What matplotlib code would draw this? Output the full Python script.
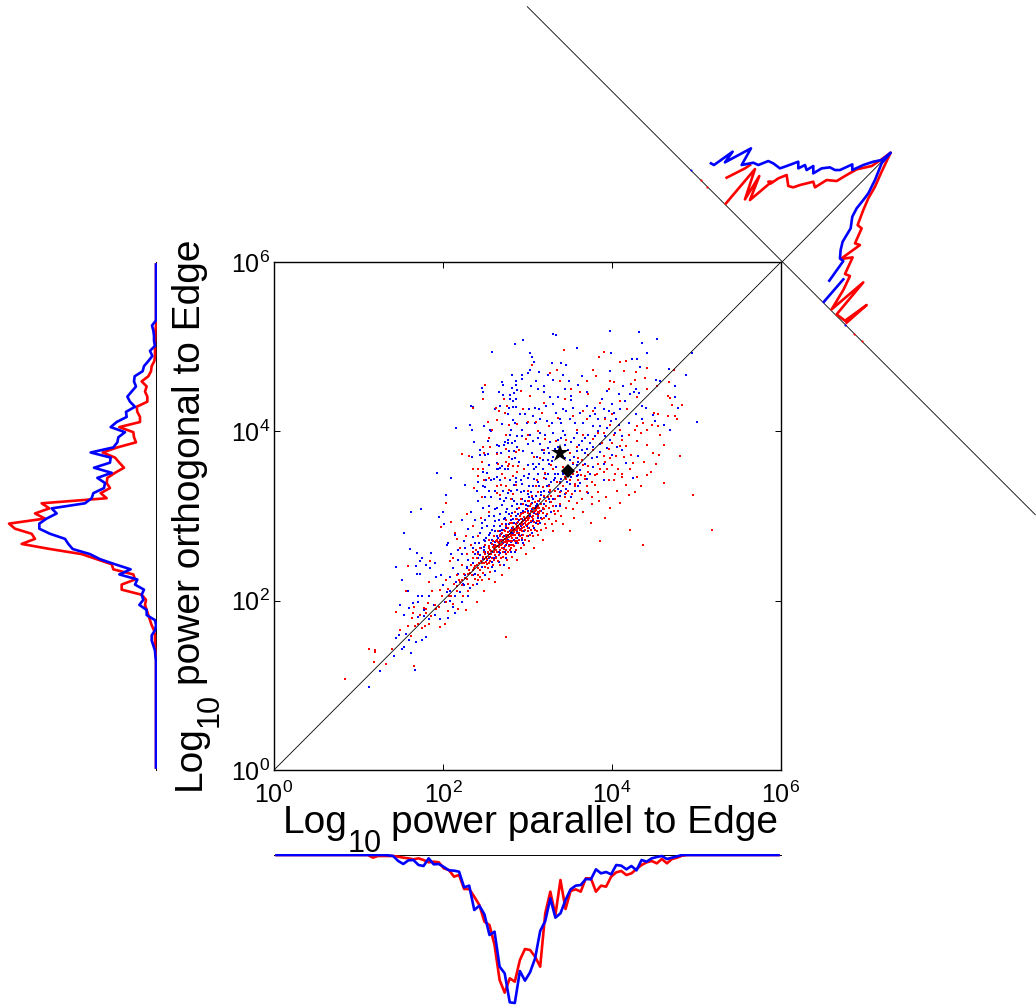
import numpy as np
import matplotlib
matplotlib.use("Agg")
import matplotlib.pyplot as plt
from matplotlib.transforms import Affine2D

plt.rcParams['font.family'] = ['Liberation Sans', 'DejaVu Sans']
plt.rcParams['mathtext.fontset'] = 'custom'
plt.rcParams['mathtext.rm'] = 'Liberation Sans'

W, H = 1036, 1008

# ---- scatter values, log10 power (parallel, orthogonal)
blue_wide = [(2.85,5.03),(2.58,4.94),(2.82,4.66),(2.70,4.58),(2.86,4.59),(2.71,4.55),(2.86,4.55),(2.82,4.51),(2.46,4.51),(2.47,4.47),
(2.66,4.47),(2.71,4.43),(2.79,4.43),(2.84,4.45),(2.87,4.49),(2.79,4.38),(2.86,4.38),(2.83,4.36),(2.33,4.30),(2.36,4.29),(2.68,4.30),
(2.83,4.29),(2.86,4.29),(2.78,4.28),(2.62,4.26),(2.77,4.21),(2.91,4.20),(2.83,4.13),(2.85,4.10),(2.70,4.09),(2.32,4.07),(2.15,4.04),
(2.34,4.02),(2.49,4.06),(2.56,4.02),(2.57,4.00),(2.80,4.02),(2.79,3.96),(2.87,3.94),(2.77,3.90),(2.85,3.89),(2.53,3.88),(2.37,3.87),
(2.73,3.87),(2.77,3.86),(2.82,3.86),(2.64,3.84),(2.66,3.83),(2.72,3.84),(2.88,3.82),(2.44,3.78),(2.78,3.77),(2.84,3.77),(2.64,3.75),
(2.69,3.75),(2.53,3.73),(2.50,3.72),(2.44,3.72),(2.34,3.70),(2.82,3.67),(2.85,3.68),(2.90,3.64),(2.64,3.63),(2.54,3.60),(2.65,3.55),
(2.70,3.59),(2.73,3.56),(2.68,3.57),(2.77,3.55),(1.93,3.51),(2.47,3.52),(2.64,3.55),(2.09,3.45),(2.52,3.51),(2.26,3.37),(2.41,3.40),
(2.51,3.43),(2.57,3.43),(2.60,3.44),(2.64,3.46),(2.67,3.42),(2.79,3.43),(2.86,3.45),(2.04,3.25),(2.47,3.35),(2.50,3.34),(2.62,3.30),
(2.71,3.29),(2.77,3.27),(2.84,3.37),(2.88,3.31),(2.40,3.29),(2.54,3.29),(2.57,3.22),(2.50,3.22),(2.67,3.20),(2.74,3.21),
(3.30,5.15),(3.34,5.14),(2.95,5.08),(3.98,5.18),(4.32,5.17),(4.53,5.09),(4.36,5.04),(3.59,4.98),(3.99,4.92),(4.42,4.93),(3.03,4.93),
(4.95,4.92),(3.05,4.88),(3.08,4.82),(3.29,4.81),(3.40,4.81),(3.46,4.78),(4.24,4.86),(4.30,4.85),(4.67,4.74),(4.88,4.67),(3.98,4.71),
(4.33,4.76),(3.03,4.72),(3.00,4.69),(2.94,4.66),(2.93,4.62),(3.30,4.61),(3.49,4.60),(3.65,4.65),(3.10,4.59),(3.04,4.53),(3.12,4.50),
(3.19,4.54),(3.44,4.50),(3.19,4.47),(3.52,4.42),(3.52,4.37),(3.36,4.41),(3.27,4.41),(4.52,4.61),(4.57,4.60),(4.74,4.53),(4.74,4.40),
(4.28,4.50),(4.26,4.47),(4.13,4.54),(4.21,4.44),(4.15,4.36),(4.35,4.30),(4.32,4.45),(5.01,4.11),(4.48,4.19),(4.51,4.12),(4.61,4.07),
(4.69,4.01),(4.78,4.28),(3.80,4.28),(3.90,4.26),(3.96,4.24),(4.02,4.22),(3.88,4.38),(3.80,4.20),(4.09,4.26),(4.05,4.14),(3.99,4.12),
(3.94,4.04),(3.86,4.06),(3.78,4.06),(3.66,4.10),(3.56,4.10),(3.50,4.14),(3.42,4.26),(3.34,4.22),(3.38,4.14),(3.29,4.10),(3.23,4.12),
(3.15,4.14),(3.09,4.10),(3.02,4.26),(3.09,4.28),(2.99,4.10),(2.94,4.02),(3.03,3.96),(3.15,3.98),(3.30,3.98),(3.42,4.00),(3.58,3.98),
(3.72,3.96),(3.86,3.85),(3.15,3.85),(3.27,3.87),(3.40,3.92),(3.52,3.87),(3.64,3.89),(3.05,3.75),(3.19,3.75),(2.95,3.77),(3.29,3.65),
(3.58,3.77),(3.70,3.79),(3.78,3.81),(4.31,3.71),(4.17,3.63),(4.25,3.45),(3.90,3.43),(3.72,3.27),(3.58,3.47),(3.62,3.39),
(3.00,3.60),(3.08,3.55),(3.14,3.62),(3.21,3.50),(3.12,3.40),(3.02,3.35),(3.26,3.37),(3.33,3.45),(3.40,3.30),(3.47,3.40),(3.52,3.55),
(2.96,3.47),(2.92,3.28),(3.05,3.22),(3.16,3.25),(3.22,3.18),(3.10,3.12),(2.98,3.13),(2.90,3.10),(2.82,3.12),(2.75,3.05),(2.70,3.13),
(2.62,3.08),(2.55,3.12),(2.47,3.10),(2.42,3.18),(2.33,3.05),(2.38,2.95),(2.46,2.92),(2.30,2.85),(2.22,2.95),(2.14,2.78),(2.25,2.70),
(2.35,2.75),(2.18,2.60),(2.05,2.66),(2.26,2.30),(2.30,2.48),(2.38,2.55),(2.42,2.38),(2.48,2.72),(2.55,2.78),(2.60,2.88),(2.66,2.95),
(2.58,2.40),(2.50,2.30),(2.40,2.20),(2.32,2.15),(2.22,1.98),(2.12,1.92),(2.62,2.35),(2.72,2.42),(2.85,2.58),(2.95,2.68),(3.05,2.80),
(3.15,2.92),(3.28,3.05),(3.38,3.12),(3.52,3.22)]
blue_left = [(1.62,3.05),(1.74,3.08),(2.00,3.05),(1.95,2.99),(2.01,2.91),(1.54,2.80),(2.06,2.68),(1.61,2.61),(1.69,2.56),(1.86,2.56),
(1.75,2.50),(1.73,2.47),(1.44,2.40),(1.68,2.41),(1.80,2.42),(1.90,2.45),(1.85,2.38),(1.69,2.31),(1.73,2.31),(1.92,2.28),(1.52,2.24),
(1.59,2.12),(1.70,2.06),(1.75,2.06),(1.83,2.05),(1.71,1.99),(1.64,1.97),(1.49,1.95),(1.60,1.91),(1.77,1.89),(1.89,1.95),(1.54,1.83),
(1.77,1.82),(1.71,1.81),(1.90,1.83),(1.84,1.78),(1.97,1.78),(1.56,1.61),(1.48,1.60),(1.44,1.56),(1.80,1.57),(1.60,1.53),(1.68,1.51),
(1.75,1.53),(1.54,1.45),(1.51,1.43),(1.62,1.38),(1.42,1.35),(1.25,1.17),(1.67,1.18),(1.13,0.98),(2.05,2.10),(2.08,2.28),(2.12,2.38),
(2.15,2.22),(2.18,2.48),(2.10,2.55),(2.20,2.10),(2.25,2.18),(2.02,1.98),(2.00,2.18),(2.08,2.00),(1.98,2.30),(2.14,1.85),(2.06,1.80),
(2.28,2.40),(2.30,2.05),(2.35,2.30),(2.22,2.55),(2.26,2.62)]
blue_core = [(2.45,2.62),(2.50,2.70),(2.55,2.65),(2.58,2.72),(2.62,2.60),(2.64,2.76),(2.67,2.70),(2.70,2.84),(2.72,2.62),(2.74,2.90),
(2.76,2.78),(2.78,2.66),(2.80,2.95),(2.82,2.86),(2.84,2.72),(2.86,3.00),(2.88,2.92),(2.90,2.78),(2.92,3.04),(2.94,2.96),(2.96,2.82),
(2.98,3.08),(3.00,2.98),(3.02,2.86),(3.05,3.15),(3.08,3.04),(3.10,2.92),(3.14,3.18),(3.18,3.08),(3.22,3.00),(3.26,3.28),(3.30,3.20),
(3.34,3.12),(3.40,3.44),(3.44,3.26),(3.50,3.38),(3.56,3.30),(3.62,3.54),(3.68,3.62),(3.74,3.50),(3.82,3.70),(3.90,3.62),(2.35,2.45),
(2.38,2.32),(2.42,2.50),(2.46,2.40),(2.52,2.48),(2.56,2.52),(2.60,2.50),(2.66,2.58),(2.72,2.76),(2.77,2.72),(2.83,2.80),(2.87,2.82),
(2.92,2.88),(2.97,2.95),(3.03,3.00),(3.09,3.10),(3.12,3.02),(2.28,2.38),(2.24,2.20),(2.18,2.32),(2.14,2.05),(2.08,2.12),(2.36,2.62),
(2.44,2.80),(2.52,2.88),(2.60,3.00),(2.68,3.02),(2.76,3.08),(2.84,3.18),(2.94,3.20),(3.04,3.28),(3.14,3.36),(3.24,3.50),(3.34,3.58),
(3.44,3.68),(3.30,3.70),(3.44,3.84),(3.55,3.70),(3.64,3.78),(3.00,3.45),(2.96,3.30),(3.08,3.44),(3.18,3.55),
(2.41,2.58),(2.47,2.49),(2.49,2.63),(2.53,2.56),(2.54,2.44),(2.57,2.68),(2.59,2.57),(2.61,2.69),(2.63,2.52),(2.65,2.64),(2.68,2.56),
(2.69,2.79),(2.71,2.68),(2.73,2.58),(2.75,2.86),(2.76,2.70),(2.79,2.82),(2.81,2.69),(2.83,2.96),(2.85,2.83),(2.88,2.74),(2.89,3.02),
(2.91,2.85),(2.93,2.78),(2.95,3.06),(2.99,2.88),(3.01,3.12),(3.04,2.93),(3.06,3.20),(3.11,3.14),(3.13,2.98),(3.16,3.28),(3.20,3.14),
(3.23,3.36),(3.27,3.16),(3.31,3.42),(3.36,3.32),(3.39,3.24),(3.46,3.50),(3.52,3.46),(3.58,3.60),(3.60,3.36),(3.70,3.44),(3.78,3.58),
(2.50,2.58),(2.58,2.46),(2.66,2.46),(2.74,2.50),(2.80,2.58),(2.86,2.68),(2.94,2.72),(3.00,2.76),(3.08,2.86),(3.16,2.98),(3.26,3.10),
(2.38,2.68),(2.43,2.68),(2.46,2.86),(2.50,2.95),(2.58,2.84),(2.62,2.94),(2.67,2.82),(2.72,2.96),(2.78,3.02),(2.82,3.20),(2.88,3.14),
(2.92,3.42),(3.00,3.26),(3.06,3.36),(3.12,3.50),(3.20,3.30),(3.26,3.62),(3.32,3.30),(3.36,3.50),(3.48,3.58),(3.54,3.62),(3.60,3.48),
(2.44,2.54),(2.48,2.60),(2.51,2.74),(2.54,2.50),(2.56,2.80),(2.60,2.66),(2.62,2.82),(2.65,2.74),(2.68,2.88),(2.70,2.72),(2.73,2.98),
(2.75,2.66),(2.78,2.90),(2.80,2.80),(2.82,3.04),(2.84,2.92),(2.87,3.08),(2.90,2.95),(2.92,3.14),(2.95,2.90),(2.97,3.18),(3.00,3.06),
(3.02,3.22),(3.05,3.08),(3.07,2.94),(3.10,3.24),(3.13,3.10),(3.16,3.06),(3.19,3.22),(3.22,3.44),(3.25,3.20),(3.28,3.40),(3.33,3.50),
(3.38,3.40),(3.42,3.50),(3.46,3.32),(2.55,3.00),(2.64,3.10),(2.72,3.18),(2.80,3.30),(2.86,3.40),(2.94,3.38),(3.02,3.50),(3.10,3.58),
(3.18,3.66),(3.26,3.74),(3.36,3.90)]
blue_mid = [(2.93,3.95),(3.06,3.88),(3.12,3.92),(3.21,3.96),(3.24,3.80),(3.33,3.79),(3.36,3.90),(3.44,3.96),(3.48,3.78),(3.55,3.92),
(3.61,3.84),(3.68,3.92),(3.74,3.86),(3.80,3.94),(3.84,4.00),(3.92,3.94),(3.98,3.90),(4.03,3.98),(4.08,4.08),(4.12,3.95),(4.20,4.10),
(4.28,4.20),(4.36,4.14),(4.40,4.28),(3.00,3.85),(3.06,3.62),(3.11,3.70),(3.17,3.78),(3.24,3.66),(3.30,3.56),(3.36,3.82),(3.42,3.52),
(3.50,3.66),(3.60,3.64),(3.68,3.74),(3.76,3.68),(3.86,3.76),(3.94,3.80),(4.00,3.72),(4.06,3.82),(4.12,3.78),(2.97,4.20),(3.06,4.18),
(3.14,4.26),(3.22,4.30),(3.30,4.32),(3.40,4.10),(3.46,4.24),(3.54,4.28),(3.62,4.22),(3.70,4.30),(3.74,4.18),(3.84,4.14),(3.92,4.16),
(4.00,4.32),(4.08,4.44),(3.94,4.48),(3.70,4.46),(3.60,4.55),(3.24,4.66),(3.14,4.70),(3.42,4.66)]
red_wide = [(2.50,4.55),(2.47,4.38),(2.72,4.38),(2.63,4.28),(2.66,4.24),(2.73,4.22),(2.76,4.30),(2.36,4.28),(2.53,4.11),(2.64,4.13),
(2.78,4.07),(2.87,4.09),(2.58,4.02),(2.75,3.96),(2.55,3.92),(2.47,3.82),(2.56,3.82),(2.49,3.75),(2.22,3.73),(2.31,3.71),(2.64,3.73),
(2.74,3.79),(2.86,3.76),(2.90,3.78),(2.46,3.64),(2.65,3.62),(2.78,3.70),(2.74,3.64),(2.78,3.62),(2.89,3.59),(2.36,3.55),(2.42,3.56),
(2.47,3.55),(2.77,3.59),(2.83,3.59),(2.41,3.47),(2.48,3.43),(2.54,3.45),(2.70,3.50),(2.73,3.45),(2.83,3.47),(2.87,3.52),(2.37,3.33),
(2.69,3.37),(2.64,3.35),(2.75,3.36),(2.78,3.31),(2.86,3.37),(2.46,3.22),(2.67,3.25),(2.64,3.27),(2.83,3.26),(2.81,3.20),
(3.43,4.96),(3.91,4.94),(3.85,4.88),(4.09,4.82),(4.17,4.83),(3.05,4.78),(3.35,4.73),(3.27,4.69),(3.77,4.73),(3.81,4.65),(4.28,4.70),
(4.41,4.75),(4.73,4.73),(4.14,4.71),(3.38,4.60),(3.52,4.50),(3.71,4.59),(3.98,4.60),(4.02,4.58),(4.39,4.63),(4.27,4.61),(4.67,4.58),
(4.53,4.54),(4.41,4.50),(3.96,4.50),(3.72,4.44),(3.62,4.46),(4.66,4.42),(4.69,4.39),(4.71,4.31),(4.83,4.31),(4.74,4.18),(4.55,4.20),
(4.50,4.22),(4.47,4.07),(4.54,4.06),(4.77,4.14),(4.57,3.96),(4.41,3.84),(4.48,3.75),(4.81,3.71),(4.52,3.62),(4.61,3.39),(4.96,3.25),
(4.27,3.28),(4.20,3.25),(3.93,3.22),(3.76,3.22),(4.06,3.30),(4.17,3.37),(4.25,3.63),(4.21,3.55),(4.07,3.55),(4.02,3.43),(3.80,3.37),
(3.86,3.55),(4.05,3.71),(3.96,3.79),(3.90,3.71),(4.09,3.83),(4.17,3.83),(4.29,4.06),(4.37,4.10),(4.27,4.02),(4.09,4.02),(3.98,4.08),
(3.90,3.98),(3.84,3.98),(3.78,3.91),(3.70,4.14),(3.54,4.18),(3.36,4.16),(3.17,4.22),(3.03,4.42),(2.95,4.26),(2.92,4.48),(3.10,4.11),
(3.01,4.11),(2.98,3.91),(3.21,3.91),(3.50,3.75),(3.60,3.69),(3.54,3.63),(3.72,3.59),(3.80,3.49),(3.68,3.47),(3.38,3.39),(3.21,3.51),
(3.11,3.43),(3.27,3.31),(3.46,3.27),(3.56,3.35),(5.18,2.84),(4.37,2.66),(4.21,2.84),(3.86,2.70),(2.75,1.57),(0.84,1.08),(2.62,2.22),
(2.70,2.30),(2.78,2.38),(2.88,2.48),(2.98,2.55),(3.08,2.62),(3.18,2.72),(3.30,2.82),(3.42,2.90),(3.55,2.98),(3.66,3.05),(3.32,3.02),
(3.22,2.86),(3.12,2.78),(3.02,2.70),(2.92,2.62),(2.82,2.52),(3.45,3.10),(3.58,3.15),(3.70,3.28),(3.85,3.18),(3.98,3.10),(4.10,3.15),
(3.92,2.98),(3.75,2.92),(3.50,2.82),(2.45,2.98),(2.55,3.05),(3.00,3.30),(3.10,3.35),(3.20,3.45),(3.02,3.18),(2.92,3.20),(3.30,3.55),
(3.42,3.58),(3.36,3.72),(3.15,3.68),(2.96,3.55)]
red_left = [(2.04,3.15),(2.28,3.02),(2.09,2.93),(1.98,2.87),(2.14,2.80),(2.17,2.73),(1.59,2.41),(1.85,2.47),(2.08,2.47),(2.12,2.50),
(1.84,2.22),(1.56,2.12),(1.87,2.12),(1.96,2.13),(2.03,2.24),(1.44,1.87),(1.66,1.93),(1.82,1.97),(1.77,1.91),(1.65,1.85),(1.63,1.79),
(1.73,1.83),(1.80,1.85),(1.92,1.90),(1.83,1.72),(1.79,1.70),(1.67,1.70),(1.49,1.65),(1.97,1.69),(2.02,1.73),(1.13,1.43),(1.20,1.42),
(1.20,1.39),(1.40,1.43),(1.18,1.27),(1.32,1.25),(1.66,1.23),(2.27,1.89),(2.07,2.05),(2.16,2.30),(2.22,2.42),(2.28,2.55),(2.33,2.66),
(2.06,1.88),(2.12,1.96),(2.18,1.90),(2.24,2.05),(2.30,2.12),(2.36,2.18),(2.42,2.25),(2.48,2.12),(2.54,2.26),(2.40,1.98),(2.20,2.62),
(2.27,2.76),(2.35,2.88),(2.42,2.76)]
red_core = [(2.45,2.47),(2.48,2.44),(2.50,2.55),(2.52,2.49),(2.53,2.58),(2.55,2.52),(2.56,2.60),(2.57,2.55),(2.58,2.50),(2.59,2.63),
(2.60,2.58),(2.61,2.54),(2.62,2.66),(2.63,2.60),(2.64,2.57),(2.65,2.69),(2.66,2.63),(2.67,2.60),(2.68,2.72),(2.69,2.66),(2.70,2.62),
(2.71,2.75),(2.72,2.69),(2.73,2.65),(2.74,2.78),(2.75,2.72),(2.76,2.68),(2.77,2.81),(2.78,2.75),(2.79,2.71),(2.80,2.84),(2.81,2.78),
(2.82,2.74),(2.83,2.87),(2.84,2.81),(2.85,2.77),(2.86,2.90),(2.87,2.84),(2.88,2.80),(2.89,2.93),(2.90,2.86),(2.91,2.83),(2.92,2.96),
(2.93,2.89),(2.94,2.86),(2.96,2.99),(2.97,2.92),(2.98,2.89),(3.00,3.03),(3.01,2.95),(3.02,2.92),(3.04,3.06),(3.05,2.99),(3.07,2.96),
(3.08,3.09),(3.10,3.02),(3.12,3.00),(3.13,3.12),(3.15,3.06),(3.18,3.10),(2.47,2.52),(2.51,2.46),(2.54,2.62),(2.58,2.67),(2.60,2.48),
(2.63,2.71),(2.66,2.54),(2.68,2.78),(2.71,2.57),(2.73,2.82),(2.75,2.60),(2.77,2.86),(2.80,2.66),(2.82,2.92),(2.85,2.70),(2.87,2.96),
(2.90,2.72),(2.92,3.02),(2.95,2.78),(2.97,3.05),(3.00,2.82),(3.03,3.12),(3.06,2.88),(3.09,3.16),(3.12,2.90),(3.15,3.20),(3.20,2.98),
(3.24,3.22),(3.28,3.16),(3.22,3.12),(3.32,3.30),(3.36,3.24),(3.42,3.36),(3.48,3.30),(3.54,3.50),(3.60,3.42),(3.66,3.60),(3.72,3.52),
(2.40,2.42),(2.37,2.38),(2.34,2.30),(2.31,2.36),(2.28,2.26),(2.25,2.32),(2.22,2.18),(2.19,2.24),(2.16,2.12),(2.13,2.20),(2.10,2.06),
(2.06,2.14),(2.03,1.98),(1.99,2.05),(1.95,1.92),(1.90,1.95),(1.86,1.82),(1.80,1.90),(1.75,1.68),(1.70,1.72),(1.62,1.58),(1.58,1.70),
(2.42,2.55),(2.44,2.36),(2.39,2.60),(2.36,2.50),(2.33,2.42),(2.41,2.30),(2.47,2.33),(2.53,2.38),(2.59,2.42),(2.65,2.47),(2.69,2.50),
(2.74,2.55),(2.79,2.60),(2.84,2.64),(2.89,2.68),(2.94,2.74),(2.99,2.76),(3.04,2.84),(3.09,2.84),(3.14,2.94),(2.50,2.66),(2.55,2.72),
(2.60,2.76),(2.65,2.82),(2.70,2.90),(2.75,2.95),(2.80,3.00),(2.85,3.05),(2.90,3.10),(2.95,3.14),(3.00,3.18),(3.05,3.24),(3.12,3.28),
(3.18,3.34),(3.25,3.36),(2.62,2.63),(2.64,2.65),(2.67,2.66),(2.69,2.70),(2.71,2.72),(2.73,2.73),(2.75,2.76),(2.77,2.77),(2.79,2.79),
(2.81,2.82),(2.83,2.83),(2.85,2.84),(2.87,2.88),(2.89,2.88),(2.91,2.91),(2.93,2.93),(2.95,2.94),(2.97,2.97),(2.99,2.98),(3.01,3.00),
(3.03,3.02),(3.06,3.05),(3.09,3.06),(3.11,3.09),(3.14,3.10),(2.60,2.62),(2.57,2.59),(2.54,2.55),(2.51,2.52),(2.48,2.49),(2.46,2.44),
(2.43,2.45),(2.41,2.39),(2.38,2.41),(2.35,2.36),(2.32,2.33),(2.29,2.31),(2.26,2.27),(2.23,2.25),(2.20,2.22),(2.17,2.17),
(2.52,2.43),(2.56,2.47),(2.61,2.60),(2.66,2.68),(2.70,2.67),(2.72,2.61),(2.74,2.69),(2.76,2.74),(2.78,2.64),(2.80,2.76),(2.82,2.70),
(2.84,2.85),(2.86,2.74),(2.88,2.86),(2.90,2.80),(2.92,2.84),(2.94,2.92),(2.96,2.87),(2.98,2.94),(3.00,2.90),(3.02,2.98),(3.04,2.94),
(3.06,3.00),(3.08,2.93),(3.10,3.07),(3.12,3.05),(3.14,3.03),(3.16,3.14),(3.18,3.04),(3.20,3.08),(3.22,3.18),(3.25,3.10),(3.28,3.24),
(3.30,3.12),(3.33,3.20),(3.38,3.28),(3.44,3.22),(3.50,3.42),(3.56,3.38),(3.62,3.30),(3.68,3.44),(3.76,3.40),(3.82,3.50),(3.90,3.52),
(3.96,3.42),(4.04,3.50),(4.12,3.46),(4.00,3.60),(3.92,3.64),(3.84,3.28),(3.76,3.14),(3.64,3.20),(3.54,3.08),(3.40,3.00),(3.34,2.94),
(3.26,2.96),(3.16,2.84),(3.06,2.76),(2.96,2.66),(2.86,2.60),(2.76,2.48),(2.68,2.42),(2.56,2.34),(2.46,2.24),(2.38,2.26),(2.30,2.20),
(2.49,2.58),(2.55,2.64),(2.59,2.70),(2.61,2.64),(2.64,2.72),(2.67,2.76),(2.70,2.80),(2.72,2.84),(2.74,2.88),(2.77,2.70),(2.79,2.92),
(2.81,2.62),(2.83,2.78),(2.86,2.96),(2.88,2.70),(2.91,3.00),(2.93,2.82),(2.95,3.03),(2.97,2.84),(2.99,3.08),(3.01,2.86),(3.04,3.14),
(3.07,3.10),(3.11,2.94),(3.13,3.18),(3.17,2.96),(3.19,3.24),(3.23,3.02),(3.27,3.30),(3.31,3.06),(3.35,3.40),(3.39,3.14),(3.45,3.44),
(3.49,3.18),(3.53,3.26),(3.58,3.52),(3.63,3.48),(3.70,3.36),(2.44,2.62),(2.40,2.50),(2.36,2.58),(2.44,2.28),(2.50,2.40),(2.55,2.44),
(2.63,2.50),(2.71,2.52),(2.77,2.58),(2.83,2.66),(2.91,2.76),(2.97,2.72),(3.03,2.78),(3.11,2.82),(3.21,2.90),(3.29,2.90),(3.36,3.06)]
red_mid = [(3.08,3.70),(3.20,3.78),(3.28,3.60),(3.34,3.88),(3.44,3.46),(3.46,3.90),(3.58,3.82),(3.64,3.66),(3.66,3.96),(3.72,3.72),
(3.78,3.78),(3.84,3.62),(3.88,3.86),(3.94,3.56),(3.98,3.68),(4.00,3.86),(4.02,3.96),(4.12,3.90),(4.14,3.70),(4.20,3.96),(4.22,3.72),
(4.30,3.88),(4.34,3.98),(4.38,3.64),(4.42,4.02),(4.46,3.52),(4.12,3.50),(4.30,3.46),(4.34,3.36),(4.42,3.48),(4.56,3.72),(4.62,3.84),
(4.66,4.18),(3.58,4.02),(3.66,4.24),(3.78,4.24),(3.86,4.34),(3.92,4.14),(4.00,4.20),(4.10,4.36),(4.18,4.26),(4.30,4.40),(4.22,4.56),
(3.44,4.38),(3.20,4.34),(3.00,3.96),(3.12,4.00),(3.26,4.06)]
star_x, star_y = [3.38], [3.75]
diamond_x, diamond_y = [3.48], [3.53]

# ---- marginal of parallel power: histogram heights per 0.06-decade bin, first listed bin given
par_blue_start = 22
par_blue = [1,3,18,27,16,15,30,33,10,28,27,36,46,47,50,97,92,165,152,178,240,230,335,355,442,444,348,377,352,310,228,198,130,188,175,
            135,103,92,90,72,73,43,55,51,58,30,32,43,33,46,15,20,10,6,3,12,8,4]
par_red_start = 19
par_red = [8,3,3,3,3,5,8,10,13,10,15,22,20,22,40,45,65,60,102,102,125,150,200,210,270,375,413,370,380,315,282,285,305,335,175,110,180,
           75,162,108,103,110,70,70,110,92,95,65,52,48,60,55,42,30,22,18,25,12,25,12,8,2]
# ---- marginal of orthogonal power
ort_blue_start = 22
ort_blue = [2,3,8,13,13,3,0,3,28,28,50,38,43,36,63,56,110,76,123,168,198,250,263,273,318,350,350,328,298,313,213,193,188,156,153,176,133,
            186,138,136,196,128,116,113,93,136,118,88,90,63,78,86,73,60,66,64,40,36,23,11,18,3,6,6,8,12]
ort_red_start = 23
ort_red = [2,3,3,3,6,13,18,23,28,33,30,43,103,103,63,68,128,133,178,223,318,403,363,373,423,441,333,363,320,343,148,166,138,148,146,123,
           96,110,123,160,116,60,66,68,110,48,48,56,58,26,26,33,28,43,23,15,13,5,3,3,3,3,2,2]

# ---- marginal of the ratio, along the anti-diagonal (position, height); nan = gap in the curve
nan = float('nan')
ratio_blue_pos = [-509,-495,-479,-470,-434,-412,-392,-384,-362,-344,-322,-287,-274,-252,-232,-222,-202,-194,-172,-162,-140,-117,-102,-82,
                  -65,-47,-27,-7,-2,3,33,53,58,63,75,105,113,121,140,163,181,198,nan,236,245]
ratio_blue_val = [81,85,181,126,246,168,198,210,218,260,268,273,300,348,328,358,348,380,358,398,426,433,448,502,485,533,573,603,652,593,
                  523,463,428,383,345,305,273,241,210,183,185,84,nan,130,5]
ratio_red_pos = [-419,-392,-387,nan,-344,-360,-299,-326,-282,-272,-282,-269,-262,-247,-209,-190,-177,-147,-125,-112,-79,-67,-54,-19,-9,-2,
                 28,53,68,88,116,138,163,183,167,198,225,246,268,291,305,321,365,383,376]
ratio_red_val = [85,168,193,nan,6,196,75,188,88,208,198,201,238,273,245,256,283,333,321,378,405,453,500,555,605,652,568,503,448,398,336,
                 338,273,283,183,224,151,160,98,5,181,5,11,123,10]
speck_blue_pos = [-549,378]
speck_red_pos = [-489,-449,433,476]

# ---- axis text
tick_values = [1, 1e2, 1e4, 1e6]
tick_labels = [r'$\mathregular{10^{0}}$', r'$\mathregular{10^{2}}$', r'$\mathregular{10^{4}}$', r'$\mathregular{10^{6}}$']
RED, BLUE = '#ff0000', '#0000ff'


def box(x0, y0, x1, y1):
    return [x0 / W, 1 - y1 / H, (x1 - x0) / W, (y1 - y0) / H]


def hist(start, vals, n=100):
    h = np.zeros(n)
    h[start:start + len(vals)] = vals
    return h


fig = plt.figure(figsize=(W / 100, H / 100), dpi=100, facecolor='white')

# main scatter
ax = fig.add_axes(box(274, 262, 781, 770))
ax.set_xscale('log'); ax.set_yscale('log')
ax.set_xlim(1, 1e6); ax.set_ylim(1, 1e6)
for pts, c, z in [(blue_wide + blue_left + blue_core + blue_mid, BLUE, 2),
                  (red_wide + red_left + red_core + red_mid, RED, 3)]:
    p = np.array(pts)
    ax.scatter(10 ** p[:, 0], 10 ** p[:, 1], s=3.0, c=c, marker='s', linewidths=0, zorder=z)
ax.plot([1, 1e6], [1, 1e6], color='k', lw=0.6, zorder=4)
ax.plot(10 ** np.array(star_x), 10 ** np.array(star_y), marker='*', color='k', ms=13.5, mew=0, zorder=5)
ax.plot(10 ** np.array(diamond_x), 10 ** np.array(diamond_y), marker='D', color='k', ms=6.8, mew=0, zorder=5)
ax.set_xticks(tick_values); ax.set_yticks(tick_values)
ax.set_xticklabels(tick_labels); ax.set_yticklabels(tick_labels)
ax.minorticks_off()
ax.tick_params(axis='both', which='major', direction='in', length=4, width=0.7, top=True, right=True, labelsize=18)
ax.tick_params(axis='x', pad=8)
ax.tick_params(axis='y', pad=3)
for s in ax.spines.values():
    s.set_linewidth(1.0)

bins = (np.arange(100) + 0.5) * 0.06

# bottom marginal (clipped just past its zero line, as in the original)
axb = fig.add_axes(box(274, 854, 781, 1007))
axb.set_xlim(0, 6); axb.set_ylim(456, -3)
axb.axis('off')
axb.axhline(0, color='k', lw=0.7, clip_on=False, zorder=1)
axb.plot(bins, hist(par_red_start, par_red), color=RED, lw=1.9, zorder=2)
axb.plot(bins, hist(par_blue_start, par_blue), color=BLUE, lw=1.9, zorder=3)

# left marginal
axl = fig.add_axes(box(4, 262, 157, 770))
axl.set_xlim(456, -3); axl.set_ylim(0, 6)
axl.axis('off')
axl.axvline(0, color='k', lw=0.7, clip_on=False, zorder=1)
axl.plot(hist(ort_red_start, ort_red), bins, color=RED, lw=1.9, zorder=2)
axl.plot(hist(ort_blue_start, ort_blue), bins, color=BLUE, lw=1.9, zorder=3)

# overlay in figure pixels, with the rotated frame of the ratio marginal
ov = fig.add_axes([0, 0, 1, 1], zorder=5)
ov.set_xlim(0, W); ov.set_ylim(H, 0)
ov.axis('off')
ov.patch.set_alpha(0)
rot = Affine2D.from_values(1 / 6, 1 / 6, 1 / 6, -1 / 6, 782.3, 261.7) + ov.transData
ov.plot([-1530, 1518], [0, 0], color='k', lw=0.6, transform=rot, clip_on=False)
ov.plot([0, -2], [0, 652], color='k', lw=0.6, transform=rot)
ov.plot(ratio_red_pos, ratio_red_val, color=RED, lw=1.9, transform=rot)
ov.plot(ratio_blue_pos, ratio_blue_val, color=BLUE, lw=1.9, transform=rot)
ov.plot(speck_red_pos, [0] * len(speck_red_pos), ls='none', marker='o', ms=1.5, mew=0, color=RED, transform=rot)
ov.plot(speck_blue_pos, [0] * len(speck_blue_pos), ls='none', marker='o', ms=1.5, mew=0, color=BLUE, transform=rot)

# axis titles, built from pieces so the subscript sits as low as in the original
fs, fsub = 28, 22
ov.text(283, 833, 'Log', fontsize=fs, ha='left', va='baseline')
ov.text(348, 852, '10', fontsize=fsub, ha='left', va='baseline')
ov.text(391, 833, 'power parallel to Edge', fontsize=fs, ha='left', va='baseline')
ov.text(200, 790, 'Log', fontsize=fs, ha='left', va='baseline', rotation=90, rotation_mode='anchor')
ov.text(218, 727, '10', fontsize=fsub, ha='left', va='baseline', rotation=90, rotation_mode='anchor')
ov.text(200, 685, 'power orthogonal to Edge', fontsize=fs, ha='left', va='baseline', rotation=90, rotation_mode='anchor')

fig.savefig('out.png', dpi=100, facecolor='white')
